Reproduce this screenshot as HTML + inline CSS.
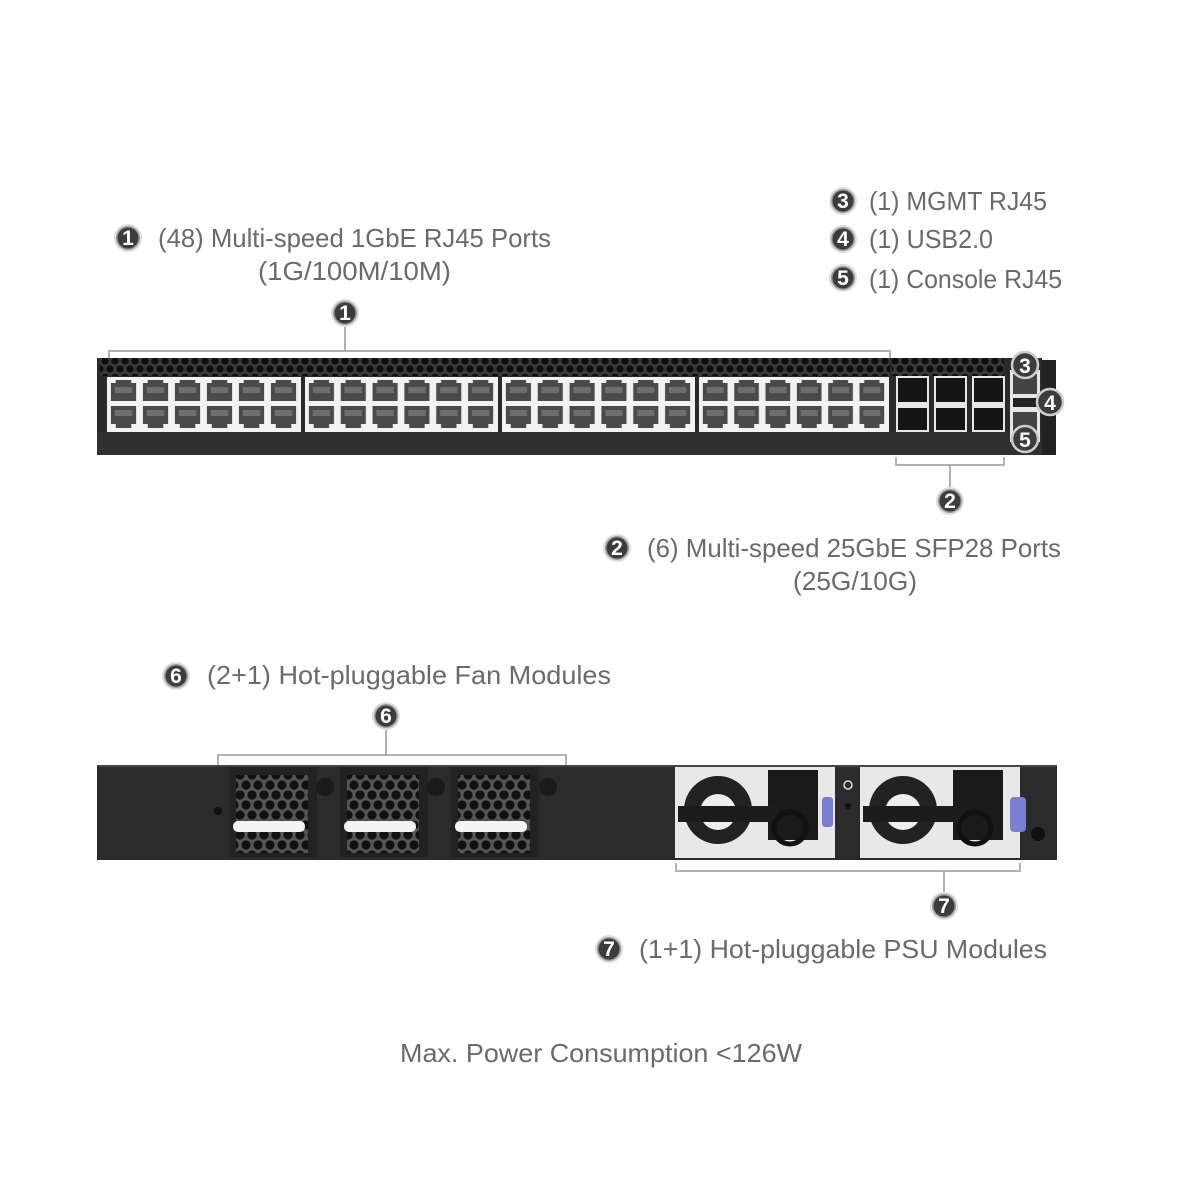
<!DOCTYPE html>
<html><head><meta charset="utf-8"><style>
html,body{margin:0;padding:0;background:#fff;}
svg{display:block}
text{font-family:"Liberation Sans",sans-serif;fill:#6a6a6a;font-size:26px}
.b{fill:#fff;font-size:21px;font-weight:bold;text-anchor:middle}
</style></head><body>
<svg width="1201" height="1201" viewBox="0 0 1201 1201" xmlns="http://www.w3.org/2000/svg">
<defs>
<pattern id="hex" x="100" y="358" width="10" height="16" patternUnits="userSpaceOnUse">
<rect width="10" height="16" fill="#3a3a3a"/>
<circle cx="5" cy="3" r="3.6" fill="#0e0e0e"/>
<circle cx="0" cy="11" r="3.6" fill="#0e0e0e"/><circle cx="10" cy="11" r="3.6" fill="#0e0e0e"/>
</pattern>
<pattern id="rj" x="0" y="0" width="0.16667" height="1" patternUnits="objectBoundingBox">
<rect width="33" height="28" fill="#f2f2f2"/>
<path d="M3 6 H8 V3 H24 V6 H29 V24 H3 Z" fill="#4a4a4a"/>
<rect x="7" y="10" width="18" height="6" fill="#6e6e6e"/>
</pattern>
<pattern id="rj2" x="0" y="0" width="0.16667" height="1" patternUnits="objectBoundingBox">
<rect width="33" height="28" fill="#f2f2f2"/>
<path d="M3 2 H29 V20 H24 V24 H8 V20 H3 Z" fill="#4a4a4a"/>
<rect x="7" y="6" width="18" height="6" fill="#6e6e6e"/>
</pattern>
<pattern id="fanhex" x="0" y="0" width="12" height="20" patternUnits="userSpaceOnUse">
<rect width="12" height="20" fill="#555"/>
<circle cx="6" cy="5" r="4.6" fill="#111"/>
<circle cx="0" cy="15" r="4.6" fill="#111"/><circle cx="12" cy="15" r="4.6" fill="#111"/>
</pattern>
<g id="badge"><circle r="14" fill="#dcdcdc"/><circle r="12" fill="#9a9a9a"/><circle r="10.5" fill="#3c3c3c"/></g>
</defs>

<!-- Top labels -->
<use href="#badge" x="128" y="238"/><text class="b" x="128" y="245">1</text>
<text x="158" y="247" textLength="393" lengthAdjust="spacingAndGlyphs">(48) Multi-speed 1GbE RJ45 Ports</text>
<text x="258" y="280" textLength="193" lengthAdjust="spacingAndGlyphs">(1G/100M/10M)</text>

<use href="#badge" x="843" y="201"/><text class="b" x="843" y="208">3</text>
<text x="869" y="210" textLength="178" lengthAdjust="spacingAndGlyphs">(1) MGMT RJ45</text>
<use href="#badge" x="843" y="239"/><text class="b" x="843" y="246">4</text>
<text x="869" y="248" textLength="124" lengthAdjust="spacingAndGlyphs">(1) USB2.0</text>
<use href="#badge" x="843" y="278"/><text class="b" x="843" y="285">5</text>
<text x="869" y="288" textLength="193" lengthAdjust="spacingAndGlyphs">(1) Console RJ45</text>

<use href="#badge" x="345" y="313"/><text class="b" x="345" y="320">1</text>
<path d="M109 358 V351 H890 V358 M345 351 V327" stroke="#999" stroke-width="1.5" fill="none"/>

<!-- front panel -->
<rect x="97" y="358" width="945" height="97" fill="#2a2a2a"/>
<rect x="97" y="432" width="945" height="23" fill="#303030"/>
<rect x="100" y="358" width="790" height="18" fill="url(#hex)"/>
<rect x="892" y="358" width="112" height="18" fill="url(#hex)"/>
<rect x="107" y="377" width="194" height="55" fill="#f2f2f2"/>
<rect x="305" y="377" width="193" height="55" fill="#f2f2f2"/>
<rect x="502" y="377" width="193" height="55" fill="#f2f2f2"/>
<rect x="699" y="377" width="190" height="55" fill="#f2f2f2"/>
<svg x="108" y="377" width="192" height="28" viewBox="0 0 198 28" preserveAspectRatio="none"><rect width="198" height="28" fill="url(#rj)"/></svg>
<svg x="108" y="404" width="192" height="28" viewBox="0 0 198 28" preserveAspectRatio="none"><rect width="198" height="28" fill="url(#rj2)"/></svg>
<svg x="306" y="377" width="191" height="28" viewBox="0 0 198 28" preserveAspectRatio="none"><rect width="198" height="28" fill="url(#rj)"/></svg>
<svg x="306" y="404" width="191" height="28" viewBox="0 0 198 28" preserveAspectRatio="none"><rect width="198" height="28" fill="url(#rj2)"/></svg>
<svg x="503" y="377" width="191" height="28" viewBox="0 0 198 28" preserveAspectRatio="none"><rect width="198" height="28" fill="url(#rj)"/></svg>
<svg x="503" y="404" width="191" height="28" viewBox="0 0 198 28" preserveAspectRatio="none"><rect width="198" height="28" fill="url(#rj2)"/></svg>
<svg x="700" y="377" width="188" height="28" viewBox="0 0 198 28" preserveAspectRatio="none"><rect width="198" height="28" fill="url(#rj)"/></svg>
<svg x="700" y="404" width="188" height="28" viewBox="0 0 198 28" preserveAspectRatio="none"><rect width="198" height="28" fill="url(#rj2)"/></svg>
<!-- SFP cages -->
<g>
<rect x="896" y="376" width="33" height="56" fill="#e6e6e6"/><rect x="898" y="378" width="29" height="24" fill="#151515"/><rect x="898" y="408" width="29" height="22" fill="#151515"/>
<rect x="934" y="376" width="33" height="56" fill="#e6e6e6"/><rect x="936" y="378" width="29" height="24" fill="#151515"/><rect x="936" y="408" width="29" height="22" fill="#151515"/>
<rect x="972" y="376" width="33" height="56" fill="#e6e6e6"/><rect x="974" y="378" width="29" height="24" fill="#151515"/><rect x="974" y="408" width="29" height="22" fill="#151515"/>
</g>
<rect x="1042" y="360" width="14" height="95" fill="#222"/>
<rect x="1010" y="370" width="30" height="72" fill="#e6e6e6"/>
<rect x="1013" y="374" width="24" height="20" fill="#444"/>
<rect x="1013" y="398" width="24" height="9" fill="#222"/>
<rect x="1013" y="412" width="24" height="20" fill="#444"/>
<g stroke="#ccc" stroke-width="2.5"><circle cx="1025" cy="365" r="13" fill="#3c3c3c"/><circle cx="1050" cy="402" r="13" fill="#3c3c3c"/><circle cx="1025" cy="439" r="13" fill="#3c3c3c"/></g>
<text class="b" x="1025" y="373">3</text><text class="b" x="1050" y="410">4</text><text class="b" x="1025" y="447">5</text>

<path d="M896 457 V465 H1004 V457 M950 465 V487" stroke="#999" stroke-width="1.5" fill="none"/>
<use href="#badge" x="950" y="501"/><text class="b" x="950" y="508">2</text>
<use href="#badge" x="617" y="548"/><text class="b" x="617" y="555">2</text>
<text x="647" y="557" textLength="414" lengthAdjust="spacingAndGlyphs">(6) Multi-speed 25GbE SFP28 Ports</text>
<text x="793" y="590" textLength="124" lengthAdjust="spacingAndGlyphs">(25G/10G)</text>

<use href="#badge" x="176" y="676"/><text class="b" x="176" y="683">6</text>
<text x="207" y="684" textLength="404" lengthAdjust="spacingAndGlyphs">(2+1) Hot-pluggable Fan Modules</text>
<use href="#badge" x="386" y="716"/><text class="b" x="386" y="723">6</text>
<path d="M218 765 V755 H566 V765 M386 755 V730" stroke="#999" stroke-width="1.5" fill="none"/>

<!-- back panel -->
<rect x="97" y="765" width="960" height="95" fill="#2b2b2b"/>
<rect x="97" y="765" width="960" height="2" fill="#444"/>
<circle cx="218" cy="811" r="4" fill="#111"/>
<g>
<rect x="229" y="767" width="88" height="90" fill="#222"/>
<rect x="236" y="775" width="72" height="78" fill="url(#fanhex)"/>
<rect x="340" y="767" width="88" height="90" fill="#222"/>
<rect x="347" y="775" width="72" height="78" fill="url(#fanhex)"/>
<rect x="451" y="767" width="88" height="90" fill="#222"/>
<rect x="458" y="775" width="72" height="78" fill="url(#fanhex)"/>
<rect x="233" y="821" width="72" height="11" rx="5" fill="#f4f4f4"/>
<rect x="344" y="821" width="72" height="11" rx="5" fill="#f4f4f4"/>
<rect x="455" y="821" width="72" height="11" rx="5" fill="#f4f4f4"/>
<circle cx="325" cy="787" r="9" fill="#1a1a1a"/><circle cx="436" cy="787" r="9" fill="#1a1a1a"/><circle cx="548" cy="787" r="9" fill="#1a1a1a"/>
</g>
<g>
<rect x="675" y="767" width="160" height="91" fill="#e8e8e8"/>
<circle cx="718" cy="810" r="34" fill="#222"/><circle cx="718" cy="812" r="18" fill="#eee"/>
<rect x="768" y="770" width="50" height="70" fill="#1a1a1a"/>
<rect x="678" y="806" width="100" height="16" fill="#1c1c1c"/>
<circle cx="790" cy="828" r="16" fill="none" stroke="#111" stroke-width="5"/>
<rect x="822" y="797" width="11" height="30" rx="3" fill="#7b7fd0"/>
<rect x="860" y="767" width="160" height="91" fill="#e8e8e8"/>
<circle cx="903" cy="810" r="34" fill="#222"/><circle cx="903" cy="812" r="18" fill="#eee"/>
<rect x="953" y="770" width="50" height="70" fill="#1a1a1a"/>
<rect x="863" y="806" width="100" height="16" fill="#1c1c1c"/>
<circle cx="975" cy="828" r="16" fill="none" stroke="#111" stroke-width="5"/>
<rect x="1010" y="797" width="16" height="35" rx="4" fill="#7b7fd0"/>
<circle cx="848" cy="785" r="4" fill="none" stroke="#ddd" stroke-width="1.5"/>
<circle cx="848" cy="806" r="3" fill="#111"/>
<circle cx="1038" cy="834" r="7" fill="#111"/>
</g>

<path d="M676 863 V871 H1020 V863 M944 871 V892" stroke="#999" stroke-width="1.5" fill="none"/>
<use href="#badge" x="944" y="906"/><text class="b" x="944" y="913">7</text>
<use href="#badge" x="609" y="949"/><text class="b" x="609" y="956">7</text>
<text x="639" y="958" textLength="408" lengthAdjust="spacingAndGlyphs">(1+1) Hot-pluggable PSU Modules</text>

<text x="400" y="1062" textLength="402" lengthAdjust="spacingAndGlyphs">Max. Power Consumption &lt;126W</text>
</svg>
</body></html>
